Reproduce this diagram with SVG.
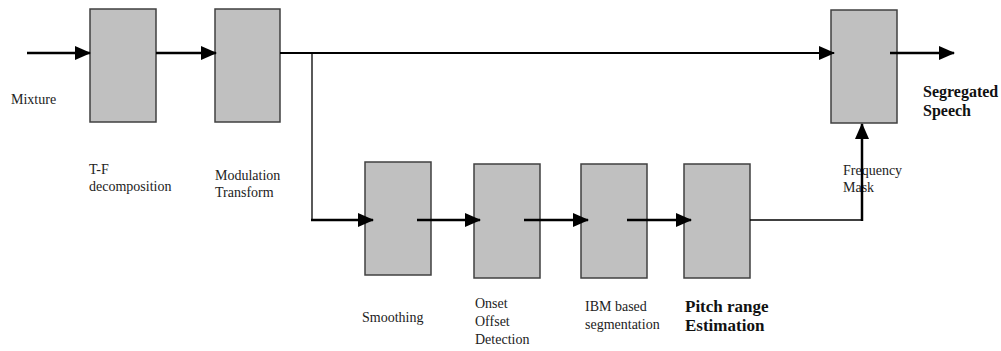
<svg xmlns="http://www.w3.org/2000/svg" width="1001" height="351" viewBox="0 0 1001 351">
<style>
.box{fill:#c0c0c0;stroke:#404040;stroke-width:1.5}
.t{font-family:'Liberation Serif','Times New Roman',Times,'DejaVu Serif',serif;font-size:14px;fill:#222}
.b{font-family:'Liberation Serif','Times New Roman',Times,'DejaVu Serif',serif;font-size:16px;font-weight:bold;fill:#111}
.c{stroke:#000;fill:none}
.thick{stroke-width:2.5}
.thin{stroke-width:1.3}
</style>
<defs>
<marker id="ah" markerUnits="userSpaceOnUse" markerWidth="16" markerHeight="14" viewBox="0 0 16 14" refX="15" refY="7" orient="auto">
<path d="M0,0 L16,7 L0,14 Z" fill="#000"/>
</marker>
</defs>
<rect width="1001" height="351" fill="#fff"/>
<g id="tf"><rect class="box" x="90" y="9" width="66" height="113"/><text class="t" x="89" y="174">T-F</text><text class="t" x="89" y="191">decomposition</text></g>
<g id="mod"><rect class="box" x="215" y="9" width="65" height="113"/><text class="t" x="215" y="180">Modulation</text><text class="t" x="215" y="197">Transform</text></g>
<g id="smooth"><rect class="box" x="365" y="162" width="66" height="113"/><text class="t" x="362" y="322">Smoothing</text></g>
<g id="onset"><rect class="box" x="474" y="164" width="66" height="114"/><text class="t" x="475" y="308">Onset</text><text class="t" x="475" y="326">Offset</text><text class="t" x="475" y="344">Detection</text></g>
<g id="ibm"><rect class="box" x="581" y="164" width="66" height="114"/><text class="t" x="585" y="311">IBM based</text><text class="t" x="585" y="329">segmentation</text></g>
<g id="pitch"><rect class="box" x="684" y="164" width="66" height="114"/><text class="b" x="685" y="312" style="font-size:17px">Pitch range</text><text class="b" x="685" y="331" style="font-size:17px">Estimation</text></g>
<g id="mask"><rect class="box" x="831" y="10" width="66" height="113"/><text class="t" x="843" y="175">Frequency</text><text class="t" x="843" y="192">Mask</text></g>
<g id="labels"><text class="t" x="11" y="104">Mixture</text><text class="b" x="923" y="97">Segregated</text><text class="b" x="923" y="116">Speech</text></g>
<g id="connectors">
<line class="c thick" x1="27" y1="53" x2="90" y2="53" marker-end="url(#ah)"/>
<line class="c thick" x1="156" y1="53" x2="216" y2="53" marker-end="url(#ah)"/>
<line class="c" stroke-width="2" x1="280" y1="53" x2="834" y2="53" marker-end="url(#ah)"/>
<polyline class="c thin" points="312,53 312,220"/>
<line class="c thick" x1="311" y1="220" x2="373" y2="220" marker-end="url(#ah)"/>
<line class="c thick" x1="417" y1="220" x2="480" y2="220" marker-end="url(#ah)"/>
<line class="c thick" x1="524" y1="220" x2="588" y2="220" marker-end="url(#ah)"/>
<line class="c thick" x1="627" y1="220" x2="691" y2="220" marker-end="url(#ah)"/>
<polyline class="c thin" points="750,220 862,220"/>
<line class="c thick" x1="862" y1="221" x2="862" y2="124" marker-end="url(#ah)"/>
<line class="c thick" x1="890" y1="53" x2="954" y2="53" marker-end="url(#ah)"/>
</g>
</svg>
